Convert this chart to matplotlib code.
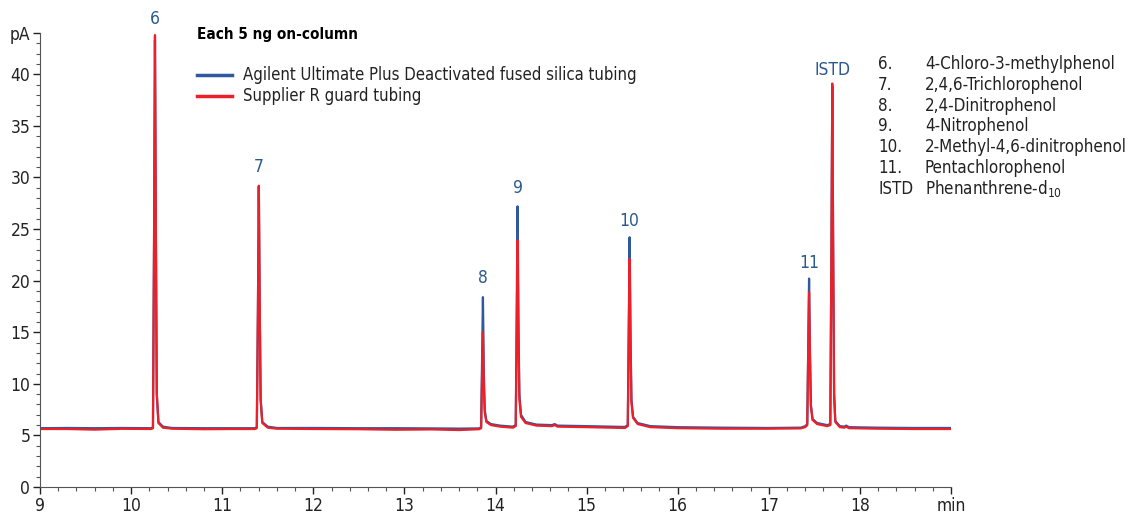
import matplotlib
matplotlib.use("Agg")
import matplotlib.pyplot as plt
from matplotlib.ticker import MultipleLocator

plt.rcParams["font.family"] = ["DejaVu Sans"]
plt.rcParams["font.stretch"] = "condensed"

# trace points (min, pA)
tempo = [9.00, 9.30, 9.60, 9.90, 10.22,
         10.240, 10.252, 10.262, 10.272, 10.282, 10.30, 10.35, 10.45, 10.80, 11.10, 11.36,
         11.380, 11.392, 11.402, 11.412, 11.422, 11.44, 11.50, 11.60, 12.00, 12.50, 12.90,
         13.30, 13.60, 13.82,
         13.842, 13.852, 13.862, 13.872, 13.882, 13.90, 13.95, 14.05, 14.19,
         14.222, 14.232, 14.242, 14.252, 14.262, 14.28, 14.33, 14.45, 14.62, 14.65, 14.68,
         15.00, 15.42,
         15.452, 15.462, 15.472, 15.482, 15.492, 15.51, 15.56, 15.70, 16.00, 16.50, 17.00,
         17.35, 17.40,
         17.422, 17.432, 17.442, 17.452, 17.462, 17.48, 17.53, 17.64, 17.675,
         17.687, 17.697, 17.707, 17.717, 17.73, 17.78, 17.83, 17.85, 17.88, 18.20, 18.60, 19.00]

agilent = [5.70, 5.72, 5.70, 5.72, 5.70,
           5.80, 24.0, 43.3, 24.0, 9.0, 6.3, 5.85, 5.72, 5.70, 5.70, 5.70,
           5.80, 17.0, 29.1, 17.0, 8.5, 6.3, 5.85, 5.72, 5.72, 5.70, 5.70,
           5.68, 5.66, 5.68,
           5.80, 12.0, 18.4, 11.0, 7.5, 6.4, 6.1, 5.95, 5.85,
           6.00, 16.0, 27.2, 16.0, 9.0, 7.0, 6.3, 6.05, 6.00, 6.10, 5.95,
           5.90, 5.82,
           6.00, 15.0, 24.2, 15.0, 8.5, 6.8, 6.2, 5.90, 5.80, 5.75, 5.72,
           5.75, 5.90,
           6.10, 13.0, 20.2, 13.0, 8.0, 6.6, 6.2, 6.00, 6.10,
           22.0, 38.8, 22.0, 9.0, 6.4, 5.90, 5.85, 5.95, 5.80, 5.75, 5.72, 5.72]

supplier = [5.62, 5.62, 5.56, 5.64, 5.62,
            5.70, 24.0, 43.8, 25.0, 9.0, 6.2, 5.75, 5.65, 5.60, 5.62, 5.62,
            5.70, 17.0, 29.2, 17.5, 8.5, 6.2, 5.75, 5.65, 5.62, 5.60, 5.55,
            5.58, 5.52, 5.60,
            5.70, 10.5, 15.0, 9.8, 7.2, 6.3, 6.0, 5.85, 5.75,
            5.90, 14.5, 23.9, 14.5, 8.5, 6.8, 6.2, 5.95, 5.90, 6.00, 5.85,
            5.80, 5.72,
            5.90, 14.0, 22.1, 14.0, 8.2, 6.7, 6.1, 5.80, 5.70, 5.65, 5.65,
            5.68, 5.80,
            6.00, 12.5, 18.9, 12.5, 7.8, 6.5, 6.1, 5.90, 6.00,
            22.0, 39.1, 22.5, 9.0, 6.3, 5.80, 5.75, 5.85, 5.70, 5.65, 5.62, 5.62]

# peak labels
picos = ["6", "7", "8", "9", "10", "11", "ISTD"]
pico_tempo = [10.262, 11.402, 13.862, 14.242, 15.472, 17.442, 17.697]
rotulo_y = [45.4, 31.0, 20.3, 29.0, 25.8, 21.7, 40.4]

numeros = ["6.", "7.", "8.", "9.", "10.", "11.", "ISTD"]
compostos = ["4-Chloro-3-methylphenol", "2,4,6-Trichlorophenol", "2,4-Dinitrophenol",
             "4-Nitrophenol", "2-Methyl-4,6-dinitrophenol", "Pentachlorophenol",
             "Phenanthrene-d$_{10}$"]

AZUL = "#2f58a0"
VERMELHO = "#ec2028"
ROTULO = "#2b5a8e"

fig = plt.figure(figsize=(11.34, 5.14), dpi=100)
ax = fig.add_axes([40 / 1134, 27 / 514, 911 / 1134, 454 / 514])

ax.plot(tempo, agilent, color=AZUL, lw=1.6, solid_joinstyle="round")
ax.plot(tempo, supplier, color=VERMELHO, lw=1.6, solid_joinstyle="round")

for nome, t, h in zip(picos, pico_tempo, rotulo_y):
    ax.text(t, h, nome, color=ROTULO, fontsize=12.5, ha="center", va="center")

ax.set_xlim(9, 19)
ax.set_ylim(0, 44)
ax.set_xticks(range(9, 20))
ax.set_xticklabels([str(v) for v in range(9, 19)] + ["min"])
ax.set_yticks(list(range(0, 41, 5)) + [44])
ax.set_yticklabels([str(v) for v in range(0, 41, 5)] + ["pA"])
ax.xaxis.set_minor_locator(MultipleLocator(0.2))
ax.yaxis.set_minor_locator(MultipleLocator(1))
ax.tick_params(which="major", length=5, width=1, labelsize=12.5, pad=2, colors="#222222")
ax.tick_params(which="minor", length=3, width=0.8, colors="#555555")
for s in ["top", "right"]:
    ax.spines[s].set_visible(False)
for s in ["left", "bottom"]:
    ax.spines[s].set_color("#555555")

# legend block
fig.text(197 / 1134, 1 - 35 / 514, "Each 5 ng on-column", fontsize=11, fontweight="bold",
         va="center", ha="left")
for y, cor, txt in [(75, AZUL, "Agilent Ultimate Plus Deactivated fused silica tubing"),
                    (96, VERMELHO, "Supplier R guard tubing")]:
    fig.add_artist(plt.Line2D([197 / 1134, 232 / 1134], [1 - y / 514, 1 - y / 514],
                              color=cor, lw=2.5))
    fig.text(243 / 1134, 1 - y / 514, txt, fontsize=12, va="center", ha="left", color="#222222")

for i, (n, c) in enumerate(zip(numeros, compostos)):
    y = 1 - (64 + i * 20.8) / 514
    fig.text(878 / 1134, y, n, fontsize=12.2, va="center", ha="left", color="#222222")
    fig.text(925 / 1134, y, c, fontsize=12.2, va="center", ha="left", color="#222222")

fig.savefig("out.png", dpi=100)
